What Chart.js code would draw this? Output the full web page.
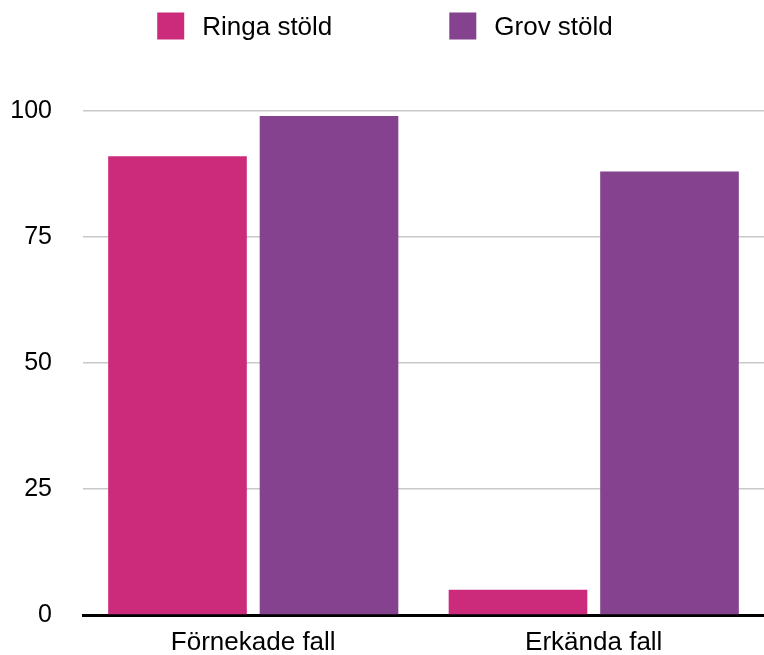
<!DOCTYPE html>
<html lang="sv">
<head>
<meta charset="utf-8">
<title>Ringa och grov stöld</title>
<script src="https://cdn.jsdelivr.net/npm/chart.js@4"></script>
<style>
  html, body { margin: 0; padding: 0; background: #fff; }
  #wrap { position: relative; width: 764px; height: 655px; }
</style>
</head>
<body>
<div id="wrap"><canvas id="graf" width="764" height="655"></canvas></div>
<script>
// Data
const kategorier = ['Förnekade fall', 'Erkända fall'];
const ringaStold = [91, 5];
const grovStold = [99, 88];
const yTicks = [0, 25, 50, 75, 100];

const FONT = 'Helvetica, "Liberation Sans", Arial, sans-serif';

// Legenden ritas för hand, Chart.js egen legend kan inte få det stora mellanrummet
const handLegend = {
    id: 'handLegend',
    afterDraw(chart) {
        const ctx = chart.ctx;
        const ruta = 27, mellan = 18, avstand = 117;
        ctx.save();
        ctx.font = '26px ' + FONT;
        ctx.textBaseline = 'middle';
        const sets = chart.data.datasets;
        const bredder = sets.map(ds => ctx.measureText(ds.label).width);
        let total = sets.length * (ruta + mellan) + bredder.reduce((a, b) => a + b, 0) + avstand * (sets.length - 1);
        let x = (chart.width - total) / 2 + 3;
        sets.forEach((ds, i) => {
            ctx.fillStyle = ds.backgroundColor;
            ctx.fillRect(x, 12.5, ruta, ruta);
            ctx.fillStyle = '#000';
            ctx.fillText(ds.label, x + ruta + mellan, 28);
            x += ruta + mellan + bredder[i] + avstand;
        });
        ctx.restore();
    }
};

new Chart(document.getElementById('graf'), {
    type: 'bar',
    data: {
        labels: kategorier,
        datasets: [
            { label: 'Ringa stöld', data: ringaStold, backgroundColor: '#CC2A7B' },
            { label: 'Grov stöld', data: grovStold, backgroundColor: '#84428F' }
        ]
    },
    options: {
        responsive: false,
        animation: false,
        devicePixelRatio: 1,
        categoryPercentage: 0.89,
        barPercentage: 0.915,
        layout: { padding: { top: 111, left: 10, right: 0, bottom: 0 } },
        plugins: {
            legend: { display: false },
            tooltip: { enabled: false }
        },
        scales: {
            x: {
                grid: { display: false, drawTicks: false },
                border: { display: true, color: '#000', width: 3 },
                ticks: { color: '#000', padding: 12, font: { family: FONT, size: 26 } },
                afterFit: (axis) => { axis.height = 40; }
            },
            y: {
                min: 0,
                max: 100,
                afterBuildTicks: (axis) => { axis.ticks = yTicks.map(v => ({ value: v })); },
                grid: { color: '#c8c8c8', lineWidth: 1.5, drawTicks: false },
                border: { display: false },
                ticks: { color: '#000', padding: 31, font: { family: FONT, size: 25 } },
                afterFit: (axis) => {
                    axis.width = 73;
                    // tick-padding ska bara gälla i sidled
                    axis.paddingTop = 15;
                    axis.paddingBottom = 15;
                }
            }
        }
    },
    plugins: [handLegend]
});
</script>
</body>
</html>
